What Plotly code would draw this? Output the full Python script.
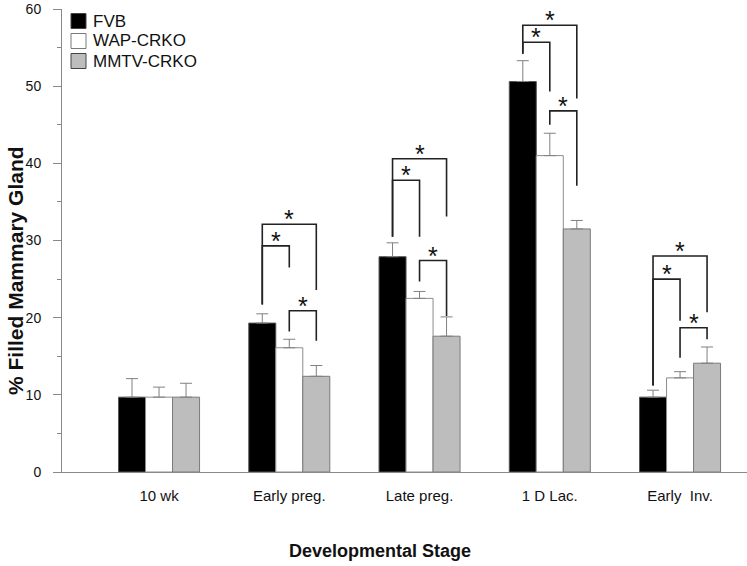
import plotly.graph_objects as go

# ---------------- data ----------------
stages = ["10 wk", "Early preg.", "Late preg.", "1 D Lac.", "Early  Inv."]
series_names = ["FVB", "WAP-CRKO", "MMTV-CRKO"]
fvb = [9.7, 19.3, 27.9, 50.6, 9.7]
wap = [9.7, 16.1, 22.5, 41.0, 12.2]
mmtv = [9.7, 12.4, 17.6, 31.5, 14.1]
fvb_err = [2.4, 1.2, 1.8, 2.7, 0.9]
wap_err = [1.3, 1.1, 0.9, 2.9, 0.8]
mmtv_err = [1.8, 1.4, 2.5, 1.1, 2.1]
y_ticks = [0, 10, 20, 30, 40, 50, 60]
x_title = "Developmental Stage"
y_title = "% Filled Mammary Gland"

# significance brackets: stage index, left series, right series,
# top level, left-leg bottom, right-leg bottom
brk_stage = [1, 1, 1, 2, 2, 2, 3, 3, 3, 4, 4, 4]
brk_left = [0, 0, 1, 0, 0, 1, 0, 0, 1, 0, 0, 1]
brk_right = [2, 1, 2, 2, 1, 2, 2, 1, 2, 2, 1, 2]
brk_top = [32.1, 29.3, 20.9, 40.6, 37.8, 27.4, 57.9, 55.7, 46.8, 28.0, 25.0, 18.7]
brk_lbot = [21.7, 21.7, 18.2, 30.5, 30.5, 24.7, 54.2, 54.2, 45.0, 11.2, 11.2, 14.8]
brk_rbot = [23.6, 26.5, 17.0, 33.1, 30.5, 20.2, 48.4, 49.3, 37.1, 20.7, 19.6, 17.2]

# ---------------- styling ----------------
FONT = "Liberation Sans, Arial, sans-serif"
fills = ["#000000", "#ffffff", "#bdbdbd"]
outlines = ["#555555", "#8c8c8c", "#7a7a7a"]
BARGAP = 0.378
bw = (1 - BARGAP) / 3

values = [fvb, wap, mmtv]
errors = [fvb_err, wap_err, mmtv_err]
xs = list(range(len(stages)))

fig = go.Figure()
for k in range(3):
    fig.add_trace(go.Bar(
        x=xs, y=values[k], name=series_names[k],
        marker=dict(color=fills[k], line=dict(color=outlines[k], width=1)),
        error_y=dict(type="data", array=errors[k], arrayminus=[0] * len(xs),
                     symmetric=False, color="#808080", thickness=1, width=6),
        showlegend=False,
    ))

shapes = []
annotations = []
for i in range(len(brk_stage)):
    xl = brk_stage[i] + (brk_left[i] - 1) * bw
    xr = brk_stage[i] + (brk_right[i] - 1) * bw
    top = brk_top[i]
    shapes.append(dict(
        type="path", xref="x", yref="y",
        path=f"M {xl},{brk_lbot[i]} L {xl},{top} L {xr},{top} L {xr},{brk_rbot[i]}",
        line=dict(color="#222222", width=1.6),
    ))
    annotations.append(dict(
        x=(xl + xr) / 2, y=top, xref="x", yref="y", text="*",
        showarrow=False, yanchor="bottom", yshift=-11,
        font=dict(family=FONT, size=25, color="#111111"),
    ))

# layout geometry (pixels)
W, H = 747, 566
L, R, T, B = 62, 0, 9, 94
pw, ph = W - L - R, H - T - B


def px(xp):
    return (xp - L) / pw


def py(yp):
    return 1 - (yp - T) / ph


# manual legend
for k in range(3):
    yc = 21 + 20 * k
    shapes.append(dict(
        type="rect", xref="paper", yref="paper",
        x0=px(71), x1=px(86), y0=py(yc + 7.5), y1=py(yc - 7.5),
        fillcolor=fills[k], line=dict(color="#444444" if k != 1 else "#7a7a7a", width=1),
    ))
    annotations.append(dict(
        x=px(91), y=py(yc), xref="paper", yref="paper", text=series_names[k],
        showarrow=False, xanchor="left", yanchor="middle",
        font=dict(family=FONT, size=17, color="#111111"),
    ))

# axis titles
annotations.append(dict(
    x=px(380), y=py(551), xref="paper", yref="paper", text=f"<b>{x_title}</b>",
    showarrow=False, xanchor="center", yanchor="middle",
    font=dict(family=FONT, size=18, color="#111111"),
))
annotations.append(dict(
    x=px(15), y=py(271), xref="paper", yref="paper", text=f"<b>{y_title}</b>",
    showarrow=False, xanchor="center", yanchor="middle", textangle=-90,
    font=dict(family=FONT, size=21, color="#111111"),
))

fig.update_layout(
    width=W, height=H,
    margin=dict(l=L, r=R, t=T, b=B, pad=0, autoexpand=False),
    paper_bgcolor="white", plot_bgcolor="white",
    barmode="group", bargap=BARGAP, bargroupgap=0,
    shapes=shapes, annotations=annotations,
    font=dict(family=FONT, color="#111111"),
    xaxis=dict(
        range=[-0.745, 4.514], tickmode="array", tickvals=xs, ticktext=stages,
        showline=True, linecolor="#888888", linewidth=1, ticks="",
        showgrid=False, zeroline=False, ticklabelstandoff=10, automargin=False,
        tickfont=dict(family=FONT, size=15, color="#111111"),
    ),
    yaxis=dict(
        range=[0, 60], tickmode="array", tickvals=y_ticks,
        showline=True, linecolor="#888888", linewidth=1,
        ticks="outside", ticklen=8, tickcolor="#888888", tickwidth=1,
        minor=dict(ticks="outside", dtick=5, ticklen=4, tickcolor="#888888"),
        showgrid=False, zeroline=False, ticklabelstandoff=9, automargin=False,
        ticklabeloverflow="allow",
        tickfont=dict(family=FONT, size=14, color="#111111"),
    ),
)

fig.write_html(
    "out.html",
    config={"displayModeBar": False},
    post_script="document.body.style.margin='0';document.body.style.overflow='hidden';",
)
